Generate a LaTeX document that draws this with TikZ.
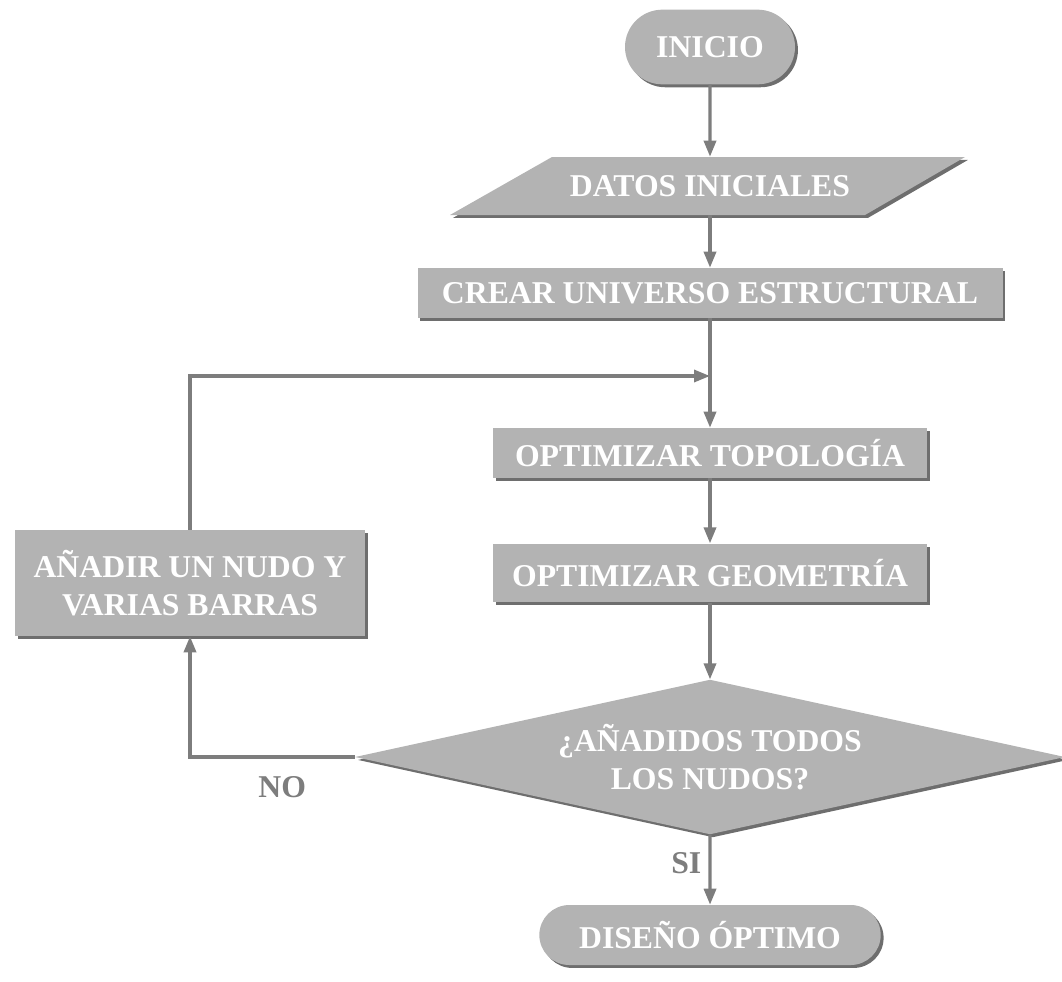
\documentclass[tikz,border=0pt]{standalone}
\usepackage{fontspec}
\setmainfont{Liberation Serif}
\usetikzlibrary{shapes.geometric,shapes.misc,shadows,arrows.meta}
\definecolor{boxgray}{HTML}{B3B3B3}
\definecolor{shadegray}{HTML}{6E6E6E}
\definecolor{linegray}{HTML}{7D7D7D}
\tikzset{
  shade/.style={drop shadow={shadow xshift=2.2pt, shadow yshift=-2.2pt, fill=shadegray, opacity=1}},
  label/.style={text=white, align=center, inner sep=0pt,
    font=\fontsize{23.8}{28}\selectfont\bfseries},
  base/.style={label, fill=boxgray, shade},
  terminal/.style={base, rounded rectangle},
  process/.style={base, rectangle},
  decision/.style={base, diamond, aspect=4.58},
  flow/.style={draw=linegray, line width=2.5pt, -{Triangle[length=12pt,width=9pt]}},
  tag/.style={text=linegray, font=\fontsize{23.8}{28}\selectfont\bfseries}
}
\begin{document}
\begin{tikzpicture}[x=0.75pt, y=-0.75pt]
      \useasboundingbox (0,0) rectangle (1062,981);
      % parallelogram behind the data node
      \fill[boxgray, shade] (552,157) -- (965,157) -- (865,215) -- (450,215) -- cycle;
      \node[terminal, minimum width=127.5pt, minimum height=56pt] (inicio) at (710,47) {INICIO};
      \node[label, minimum height=43.5pt] (datos) at (710,186) {DATOS INICIALES};
      \node[process, minimum width=438.75pt, minimum height=37.5pt] (crear) at (710,293) {CREAR UNIVERSO ESTRUCTURAL};
      \node[process, minimum width=326pt, minimum height=37.5pt] (topo) at (710,453) {OPTIMIZAR TOPOLOGÍA};
      \node[process, minimum width=326pt, minimum height=44pt] (geo) at (710,573) {OPTIMIZAR GEOMETRÍA};
      \node[decision, minimum width=532.5pt, minimum height=116pt] (pregunta) at (710,757) {¿AÑADIDOS TODOS\\LOS NUDOS?};
      \node[process, minimum width=262.5pt, minimum height=79.5pt] (anadir) at (190,583) {AÑADIR UN NUDO Y\\VARIAS BARRAS};
      \node[terminal, minimum width=256pt, minimum height=45pt] (diseno) at (710,935) {DISEÑO ÓPTIMO};
      \coordinate (union) at (710,376);
      \begin{scope}[flow]
        \draw (inicio) to (datos);
        \draw (datos) to (crear);
        \draw (crear) to (topo);
        \draw (topo) to (geo);
        \draw (geo) to (pregunta);
        \draw (pregunta.west) -| node[tag, pos=0.22, below=10pt] {NO} (anadir.south);
        \draw (anadir.north) |- (union);
        \draw (pregunta) to node[tag, pos=0.4, left=2pt] {SI} (diseno);
      \end{scope}
    \end{tikzpicture}
\end{document}
